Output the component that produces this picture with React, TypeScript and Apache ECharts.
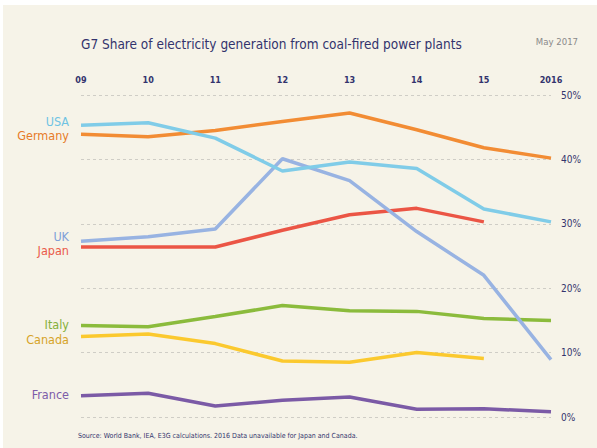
import React, { useEffect, useRef } from "react";
import * as echarts from "echarts";

const categories = ["09", "10", "11", "12", "13", "14", "15", "2016"];
const yTicks = [0, 10, 20, 30, 40, 50];

const usa = [45.3, 45.7, 43.3, 38.2, 39.6, 38.6, 32.3, 30.3];
const germany = [43.9, 43.5, 44.5, 45.9, 47.2, 44.6, 41.8, 40.2];
const uk = [27.3, 28.0, 29.2, 40.1, 36.7, 28.8, 22.0, 8.9];
const japan = [26.4, 26.4, 26.4, 29.0, 31.4, 32.4, 30.3, null];
const italy = [14.2, 14.0, 15.6, 17.3, 16.5, 16.4, 15.3, 15.0];
const canada = [12.5, 12.9, 11.4, 8.7, 8.5, 10.0, 9.1, null];
const france = [3.3, 3.7, 1.7, 2.6, 3.1, 1.2, 1.3, 0.8];

const FONT = "'DejaVu Sans Condensed', 'Liberation Sans Narrow', 'Roboto', sans-serif";
const NAVY = "#33336d";

const seriesDefs = [
  { name: "France", data: france, line: "#7b5aa6", text: "#7d5ca8", dy: -1 },
  { name: "Canada", data: canada, line: "#fbc92e", text: "#d6a328", dy: 2.5 },
  { name: "Italy", data: italy, line: "#8bbb3c", text: "#84b03a", dy: -1 },
  { name: "Japan", data: japan, line: "#eb5545", text: "#ea5a4a", dy: 3.2 },
  { name: "UK", data: uk, line: "#98b3e2", text: "#7fa0d8", dy: -5 },
  { name: "Germany", data: germany, line: "#f28c34", text: "#e77b29", dy: 0.8 },
  { name: "USA", data: usa, line: "#80cce8", text: "#6ec3e3", dy: -4.2 },
];

export default function App() {
  const ref = useRef<HTMLDivElement>(null);
  useEffect(() => {
    if (!ref.current) return;
    const chart = echarts.init(ref.current, null, { renderer: "svg" });
    chart.setOption({
      animation: false,
      backgroundColor: "transparent",
      textStyle: { fontFamily: FONT },
      title: {
        text: "G7 Share of electricity generation from coal-fired power plants",
        left: 76,
        top: 32,
        textStyle: { fontFamily: FONT, fontSize: 13.5, fontWeight: 500, color: NAVY },
      },
      grid: { left: 81, right: 46, top: 95, bottom: 31 },
      xAxis: {
        type: "category",
        position: "top",
        data: categories,
        boundaryGap: false,
        axisLine: { show: false },
        axisTick: { show: false },
        axisLabel: { color: NAVY, fontSize: 9, fontWeight: 600, margin: 11, fontFamily: FONT },
        splitLine: { show: false },
      },
      yAxis: {
        type: "value",
        position: "right",
        min: yTicks[0],
        max: yTicks[yTicks.length - 1],
        interval: 10,
        axisLine: { show: false },
        axisTick: { show: false },
        axisLabel: { color: NAVY, fontSize: 10, margin: 10, formatter: "{value}%", fontFamily: FONT },
        splitLine: { show: true, lineStyle: { color: "#cfcdc6", type: [3, 3], width: 1 } },
      },
      graphic: [
        {
          type: "text",
          right: 19,
          top: 36,
          style: { text: "May 2017", fontSize: 9.5, fill: "#8a8a8a", fontFamily: FONT },
        },
        {
          type: "text",
          left: 78,
          top: 432,
          style: {
            text: "Source: World Bank, IEA, E3G calculations. 2016 Data unavailable for Japan and Canada.",
            fontSize: 7,
            fill: NAVY,
            fontFamily: FONT,
          },
        },
      ],
      series: seriesDefs.map((s) => ({
        name: s.name,
        type: "line",
        symbol: "circle",
        symbolSize: 0.01,
        showSymbol: true,
        lineStyle: { color: s.line, width: 3.5 },
        itemStyle: { color: s.line },
        label: { show: false },
        emphasis: { disabled: true },
        data: s.data.map((v, i) =>
          i === 0
            ? {
                value: v,
                label: {
                  show: true,
                  position: "left",
                  distance: 12,
                  offset: [0, s.dy],
                  formatter: s.name,
                  color: s.text,
                  fontSize: 12.5,
                  lineHeight: 11,
                  fontWeight: 500,
                  fontFamily: FONT,
                },
              }
            : v
        ),
      })),
    });
    return () => chart.dispose();
  }, []);
  return (
    <div style={{ position: "fixed", left: 0, top: 0, width: 597, height: 448, background: "#ffffff" }}>
      <div style={{ position: "absolute", left: 3, top: 5, width: 594, height: 443, background: "#f6f3e8" }} />
      <div ref={ref} style={{ position: "absolute", left: 0, top: 0, width: 597, height: 448 }} />
    </div>
  );
}
